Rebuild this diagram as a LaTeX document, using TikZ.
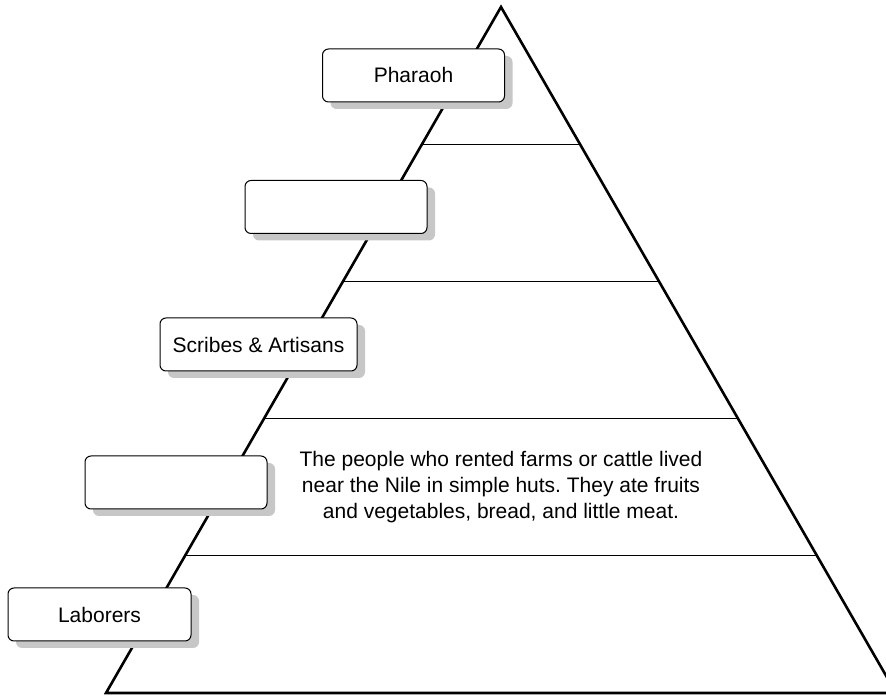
\documentclass[tikz,border=0pt]{standalone}
\usepackage{fontspec}
\setmainfont{Liberation Sans}
\usepackage{tikz}
\usetikzlibrary{calc,shadows}
\frenchspacing

\begin{document}
\begin{tikzpicture}[
    x=1pt, y=1pt,
    label box/.style={rectangle, draw, line width=1pt, rounded corners=6pt, fill=white,
        minimum width=182pt, minimum height=53pt, align=center,
        font=\fontsize{21}{26}\selectfont,
        drop shadow={shadow xshift=8pt, shadow yshift=-7pt, fill=black!22, opacity=1}},
    tier/.style={line width=1.3pt},
    pyramid/.style={line width=2.6pt, line join=miter}
]
\useasboundingbox (0,0) rectangle (886,696);
\clip (0,0) rectangle (886,696);
% Pyramid
\coordinate (apex) at (501,689);
\coordinate (baseL) at (106,3);
\coordinate (baseR) at (896,3);
\draw[pyramid] (apex) -- (baseL) -- (baseR) -- cycle;
% Tiers
\foreach \k in {1,...,4}
    \draw[tier] ($(apex)!\k/5!(baseL)$) -- ($(apex)!\k/5!(baseR)$);
% Labels
\node[label box] (pharaoh) at (413.5,620.5) {Pharaoh};
\node[label box] (tiertwo) at (336,489) {};
\node[label box, minimum width=197pt] (scribes) at (258.5,351.5) {Scribes \& Artisans};
\node[label box] (tierfour) at (176,213.5) {};
\node[label box, minimum width=183pt] (laborers) at (99.5,81.5) {Laborers};
% Description
\node[align=center, font=\fontsize{21}{26}\selectfont] (farmers) at (501,209)
    {The people who rented farms or cattle lived\\
     near the Nile in simple huts. They ate fruits\\
     and vegetables, bread, and little meat.};
\end{tikzpicture}
\end{document}
